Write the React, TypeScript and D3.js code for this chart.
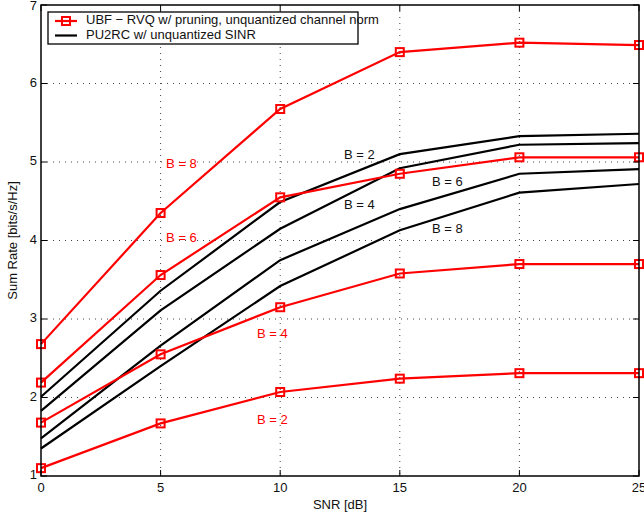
import React from 'react';
import * as d3 from 'd3';

// SNR points (dB)
const snr = [0, 5, 10, 15, 20, 25];

// UBF - RVQ w/ pruning, unquantized channel norm
const ubfB2 = [1.10, 1.67, 2.07, 2.24, 2.31, 2.31];
const ubfB4 = [1.68, 2.55, 3.15, 3.58, 3.70, 3.70];
const ubfB6 = [2.19, 3.56, 4.55, 4.85, 5.06, 5.06];
const ubfB8 = [2.68, 4.35, 5.675, 6.40, 6.52, 6.49];

// PU2RC w/ unquantized SINR
const puB2 = [2.01, 3.36, 4.49, 5.10, 5.33, 5.36];
const puB4 = [1.83, 3.11, 4.15, 4.92, 5.22, 5.24];
const puB6 = [1.48, 2.66, 3.75, 4.40, 4.85, 4.91];
const puB8 = [1.35, 2.40, 3.42, 4.13, 4.61, 4.72];

const xTicks = [0, 5, 10, 15, 20, 25];
const yTicks = [1, 2, 3, 4, 5, 6, 7];

const legendLabels = [
  'UBF \u2212 RVQ w/ pruning, unquantized channel norm',
  'PU2RC w/ unquantized SINR',
];

// curve annotations: [text, snr, rate, colour]
const notes: [string, number, number, string][] = [
  ['B = 8', 5.23, 4.97, 'red'],
  ['B = 6', 5.23, 4.02, 'red'],
  ['B = 4', 9.03, 2.80, 'red'],
  ['B = 2', 9.03, 1.71, 'red'],
  ['B = 2', 12.67, 5.08, 'black'],
  ['B = 4', 12.67, 4.44, 'black'],
  ['B = 6', 16.35, 4.74, 'black'],
  ['B = 8', 16.35, 4.14, 'black'],
];

const W = 644;
const H = 518;
const left = 41, right = 639, top = 5, bottom = 476;
const font = 'Liberation Sans, Arial, Helvetica, sans-serif';

export default function App() {
  const x = d3.scaleLinear().domain([0, 25]).range([left, right]);
  const y = d3.scaleLinear().domain([1, 7]).range([bottom, top]);

  const line = d3.line<number>()
    .x((_, i) => x(snr[i]))
    .y(d => y(d));

  const red = [ubfB2, ubfB4, ubfB6, ubfB8];
  const black = [puB2, puB4, puB6, puB8];

  return (
    <svg width={W} height={H} style={{ position: 'absolute', left: 0, top: 0 }}
      fontFamily={font}>
      <rect x={0} y={0} width={W} height={H} fill="white" />

      {/* grid */}
      <g stroke="#444" strokeWidth={1} strokeDasharray="1,5">
        {xTicks.slice(1, -1).map(t => (
          <line key={'gx' + t} x1={x(t)} x2={x(t)} y1={top} y2={bottom} />
        ))}
        {yTicks.slice(1, -1).map(t => (
          <line key={'gy' + t} x1={left} x2={right} y1={y(t)} y2={y(t)} />
        ))}
      </g>

      {/* curves */}
      {black.map((s, i) => (
        <path key={'b' + i} d={line(s) || ''} fill="none" stroke="black" strokeWidth={2.2} />
      ))}
      {red.map((s, i) => (
        <g key={'r' + i}>
          <path d={line(s) || ''} fill="none" stroke="#ff0000" strokeWidth={2.2} />
          {s.map((v, j) => (
            <rect key={j} x={x(snr[j]) - 4} y={y(v) - 4} width={8} height={8}
              fill="none" stroke="#ff0000" strokeWidth={2} />
          ))}
        </g>
      ))}

      {/* annotations */}
      {notes.map(([t, sx, sy, c], i) => (
        <text key={'n' + i} x={x(sx)} y={y(sy)} fontSize={13} fill={c === 'red' ? '#ff0000' : '#111'}
          dominantBaseline="middle">{t}</text>
      ))}

      {/* axes box and ticks */}
      <rect x={left} y={top} width={right - left} height={bottom - top} fill="none" stroke="black" strokeWidth={1.5} />
      <g stroke="black" strokeWidth={1}>
        {xTicks.map(t => (
          <g key={'tx' + t}>
            <line x1={x(t)} x2={x(t)} y1={bottom} y2={bottom - 6} />
            <line x1={x(t)} x2={x(t)} y1={top} y2={top + 6} />
          </g>
        ))}
        {yTicks.map(t => (
          <g key={'ty' + t}>
            <line x1={left} x2={left + 6} y1={y(t)} y2={y(t)} />
            <line x1={right} x2={right - 6} y1={y(t)} y2={y(t)} />
          </g>
        ))}
      </g>
      <g fontSize={13} fill="#111">
        {xTicks.map(t => (
          <text key={'lx' + t} x={x(t)} y={bottom + 13} textAnchor="middle" dominantBaseline="middle">{t}</text>
        ))}
        {yTicks.map(t => (
          <text key={'ly' + t} x={left - 4} y={Math.max(y(t), 7)} textAnchor="end" dominantBaseline="middle">{t}</text>
        ))}
      </g>
      <text x={(left + right) / 2} y={506} fontSize={13} textAnchor="middle" dominantBaseline="middle" fill="#111">SNR [dB]</text>
      <text transform={`translate(14, ${(top + bottom) / 2}) rotate(-90)`} fontSize={13}
        textAnchor="middle" dominantBaseline="middle" fill="#111">Sum Rate [bits/s/Hz]</text>

      {/* legend */}
      <g>
        <rect x={48} y={12} width={310} height={32} fill="white" stroke="black" strokeWidth={1.3} />
        <line x1={55} x2={77} y1={21} y2={21} stroke="#ff0000" strokeWidth={2.2} />
        <rect x={62} y={17} width={8} height={8} fill="none" stroke="#ff0000" strokeWidth={2} />
        <line x1={55} x2={77} y1={35.5} y2={35.5} stroke="black" strokeWidth={2.2} />
        <text x={86} y={21} fontSize={13} dominantBaseline="middle" fill="#111">{legendLabels[0]}</text>
        <text x={86} y={35.5} fontSize={13} dominantBaseline="middle" fill="#111">{legendLabels[1]}</text>
      </g>
    </svg>
  );
}
